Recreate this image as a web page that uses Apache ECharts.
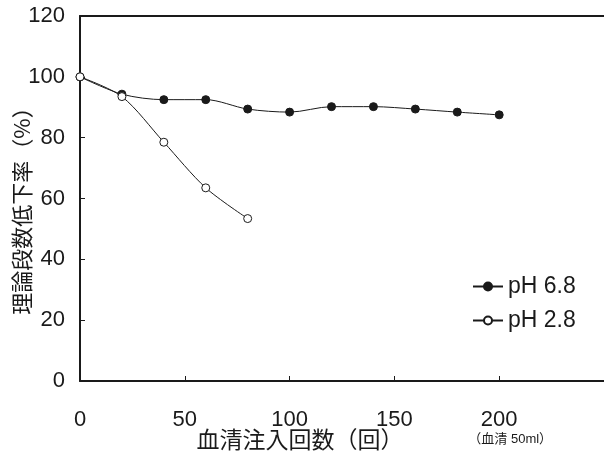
<!DOCTYPE html>
<html>
<head>
<meta charset="utf-8">
<script src="https://cdn.jsdelivr.net/npm/echarts@6/dist/echarts.min.js"></script>
<style>
  html, body { margin: 0; padding: 0; background: #fff; }
  #chart { width: 604px; height: 459px; }
</style>
</head>
<body>
<div id="chart"></div>
<script>
// 血清注入回数と理論段数低下率
var injections = [0, 20, 40, 60, 80, 100, 120, 140, 160, 180, 200];
var ph68 = [100, 94.3, 92.5, 92.5, 89.4, 88.4, 90.2, 90.2, 89.4, 88.4, 87.5];
var ph28 = [100, 93.5, 78.5, 63.5, 53.4];
var seriesNames = ['pH 6.8', 'pH 2.8'];
var xTicks = [0, 50, 100, 150, 200];
var xNote = '（血清 50ml）';

var ink = '#1a1a1a';
var font = '"Liberation Sans", "Noto Sans CJK JP", sans-serif';
var cjk = '"Noto Sans CJK JP", sans-serif';

function pairs(xs, ys) {
  return ys.map(function(y, i) { return [xs[i], y]; });
}

var chart = echarts.init(document.getElementById('chart'));

chart.setOption({
  animation: false,
  textStyle: { fontFamily: font, color: ink },
  grid: { left: 80, top: 16, right: 0, bottom: 78, outerBoundsMode: 'none', containLabel: false },
  legend: {
    orient: 'vertical',
    left: 467,
    top: 270,
    itemWidth: 30,
    itemHeight: 10,
    itemGap: 11,
    textStyle: { fontSize: 23, color: ink, fontFamily: font },
    data: seriesNames
  },
  xAxis: [{
    type: 'value',
    min: 0,
    max: 250,
    interval: 50,
    axisLine: { show: true, lineStyle: { color: ink, width: 2 } },
    axisTick: { show: true, inside: true, length: 5, lineStyle: { color: ink } },
    splitLine: { show: false },
    axisLabel: {
      margin: 28,
      fontSize: 22,
      color: ink,
      showMaxLabel: false,
      formatter: function(v) {
        if (xTicks.indexOf(v) < 0) return '';
        return v === 200 ? v + '\n{s|' + xNote + '}' : String(v);
      },
      rich: { s: { fontSize: 13, color: ink, fontFamily: font, padding: [2, 0, 0, 22] } }
    },
    name: '血清注入回数（回）',
    nameLocation: 'middle',
    nameGap: 47,
    nameMoveOverlap: false,
    nameTextStyle: { fontSize: 23, color: ink, fontFamily: cjk, padding: [0, 84, 0, 0] }
  }, {
    type: 'value',
    position: 'top',
    min: 0,
    max: 250,
    axisLine: { show: true, lineStyle: { color: ink, width: 2 } },
    axisTick: { show: false },
    axisLabel: { show: false },
    splitLine: { show: false }
  }],
  yAxis: {
    type: 'value',
    min: 0,
    max: 120,
    interval: 20,
    axisLine: { show: true, lineStyle: { color: ink, width: 2 } },
    axisTick: { show: true, inside: true, length: 5, lineStyle: { color: ink } },
    splitLine: { show: false },
    axisLabel: { margin: 15, fontSize: 22, color: ink },
    name: '理論段数低下率（%）',
    nameLocation: 'middle',
    nameGap: 47,
    nameMoveOverlap: false,
    nameTextStyle: { fontSize: 22, color: ink, fontFamily: cjk, padding: [0, 14, 0, 0] }
  },
  series: [{
    name: seriesNames[0],
    type: 'line',
    smooth: 0.3,
    data: pairs(injections, ph68),
    symbol: 'circle',
    symbolSize: 8,
    showAllSymbol: true,
    lineStyle: { color: ink, width: 1 },
    itemStyle: { color: ink, borderColor: ink, borderWidth: 1 }
  }, {
    name: seriesNames[1],
    type: 'line',
    smooth: 0.3,
    data: pairs(injections, ph28),
    symbol: 'circle',
    symbolSize: 8,
    showAllSymbol: true,
    lineStyle: { color: ink, width: 1 },
    itemStyle: { color: '#fff', borderColor: ink, borderWidth: 1 }
  }]
});
</script>
</body>
</html>
